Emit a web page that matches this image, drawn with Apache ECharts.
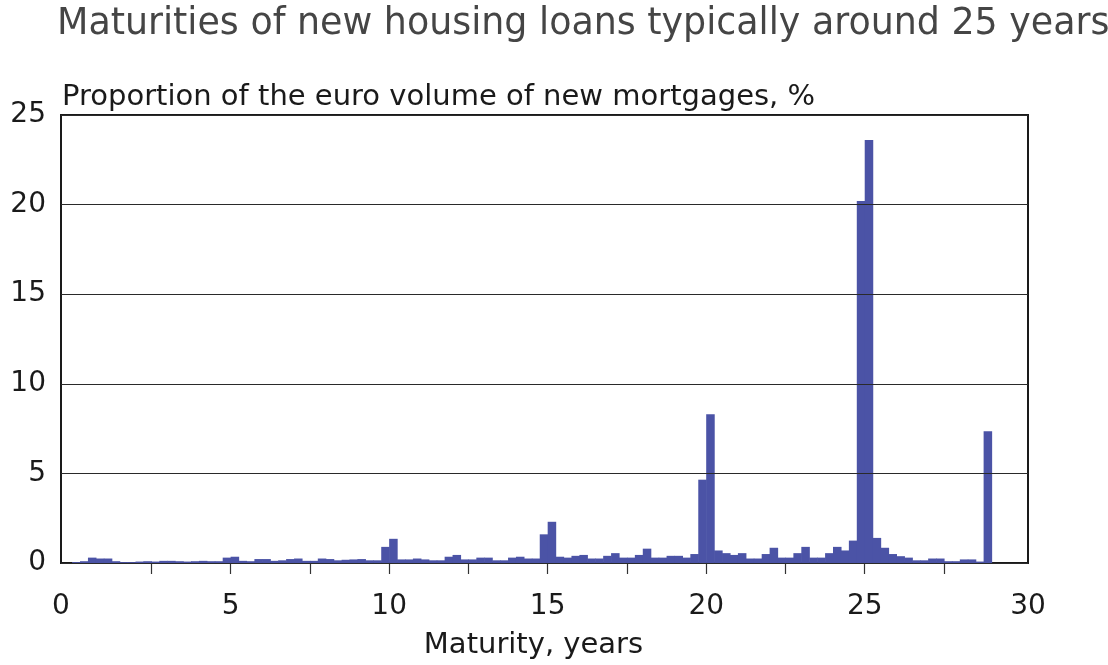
<!DOCTYPE html>
<html>
<head>
<meta charset="utf-8">
<script src="https://cdn.jsdelivr.net/npm/echarts@6/dist/echarts.min.js"></script>
<style>
html,body{margin:0;padding:0;background:#fff;}
#chart{width:1108px;height:665px;}
</style>
</head>
<body>
<div id="chart"></div>
<script>
// Share of euro volume of new mortgages (%) by maturity, quarter-year bins starting at 0 years
const binWidth = 0.25;
const shares = [
  0.05, 0.10, 0.30, 0.25, 0.25, 0.10, 0.05, 0.05, 0.08, 0.10,
  0.08, 0.12, 0.12, 0.10, 0.08, 0.10, 0.12, 0.10, 0.10, 0.30,
  0.35, 0.12, 0.10, 0.22, 0.22, 0.12, 0.15, 0.22, 0.25, 0.12,
  0.12, 0.25, 0.22, 0.15, 0.18, 0.20, 0.22, 0.15, 0.15, 0.90,
  1.35, 0.20, 0.20, 0.25, 0.20, 0.15, 0.15, 0.35, 0.45, 0.20,
  0.20, 0.30, 0.30, 0.15, 0.15, 0.30, 0.35, 0.25, 0.25, 1.60,
  2.30, 0.35, 0.30, 0.40, 0.45, 0.25, 0.25, 0.40, 0.55, 0.30,
  0.30, 0.45, 0.80, 0.30, 0.30, 0.40, 0.40, 0.30, 0.50, 4.65,
  8.30, 0.70, 0.55, 0.45, 0.55, 0.25, 0.25, 0.50, 0.85, 0.30,
  0.30, 0.55, 0.90, 0.30, 0.30, 0.55, 0.90, 0.70, 1.25, 20.20,
  23.60, 1.40, 0.85, 0.50, 0.38, 0.30, 0.15, 0.15, 0.25, 0.25,
  0.10, 0.10, 0.20, 0.20, 0.08, 7.35
];
const xTickValues = [2.5, 5, 7.5, 10, 12.5, 15, 17.5, 20, 22.5, 25, 27.5];
const xLabelValues = [0, 5, 10, 15, 20, 25, 30];
const yTickValues = [0, 5, 10, 15, 20, 25];
const titleText = 'Maturities of new housing loans typically around 25 years';
const subtitleText = 'Proportion of the euro volume of new mortgages, %';
const xAxisName = 'Maturity, years';

const xMin = -0.35, xMax = 30.15;
const barData = shares.map((v, i) => [i * binWidth, (i + 1) * binWidth, v]);

const chart = echarts.init(document.getElementById('chart'), null, {renderer: 'canvas'});
const FONT = 'DejaVu Sans';
chart.setOption({
  animation: false,
  backgroundColor: '#ffffff',
  title: [
    {text: titleText, left: 52, top: 2,
     textStyle: {fontFamily: FONT, fontSize: 36.4, fontWeight: 'normal', color: '#454545'}},
    {text: subtitleText, left: 57, top: 78,
     textStyle: {fontFamily: FONT, fontSize: 29, fontWeight: 'normal', color: '#1a1a1a'}}
  ],
  grid: {left: 61, right: 80, top: 115, bottom: 99, show: true,
         borderColor: '#1a1a1a', borderWidth: 2, backgroundColor: 'transparent'},
  xAxis: {
    type: 'value', min: xMin, max: xMax,
    name: xAxisName, nameLocation: 'middle', nameGap: 68,
    nameTextStyle: {fontFamily: FONT, fontSize: 29, color: '#1a1a1a', padding: [0, 22, 0, 0]},
    axisLine: {show: false},
    axisTick: {show: true, inside: false, length: 11, customValues: xTickValues,
               lineStyle: {color: '#333', width: 1.2}},
    axisLabel: {
      customValues: xLabelValues.map(v => v === 0 ? xMin : (v === 30 ? xMax : v)),
      formatter: v => String(Math.abs(Math.round(v))),
      fontFamily: FONT, fontSize: 28, color: '#1a1a1a', margin: 30
    },
    splitLine: {show: false}
  },
  yAxis: {
    type: 'value', min: 0, max: 25, z: 10,
    axisLine: {show: false},
    axisTick: {show: false},
    axisLabel: {customValues: yTickValues, fontFamily: FONT, fontSize: 28, color: '#1a1a1a', margin: 15},
    splitLine: {show: true, lineStyle: {color: '#2a2a2a', width: 1.2}}
  },
  series: [{
    type: 'custom',
    z: 2,
    data: barData,
    encode: {x: [0, 1], y: 2},
    renderItem: function (params, api) {
      const p0 = api.coord([api.value(0), 0]);
      const p1 = api.coord([api.value(1), api.value(2)]);
      return {
        type: 'rect',
        shape: {x: p0[0], y: p1[1], width: p1[0] - p0[0] + 0.6, height: p0[1] - p1[1]},
        style: {fill: '#4B53A6'}
      };
    }
  }]
});
</script>
</body>
</html>
